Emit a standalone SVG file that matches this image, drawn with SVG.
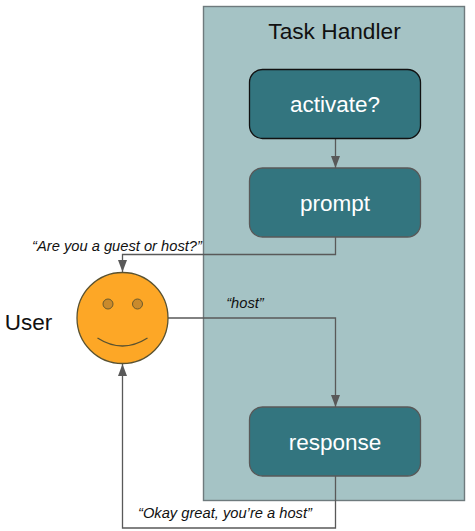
<svg xmlns="http://www.w3.org/2000/svg" width="475" height="531" viewBox="0 0 475 531">
<style>
text{font-family:"Liberation Sans",Arial,sans-serif;text-anchor:middle}
.box{fill:#33757f;stroke:#595959;stroke-width:1.3}
.lbl{fill:#fff;font-size:22.500px}
.q{font-size:14.700px;font-style:italic;fill:#111}
.c{fill:none;stroke:#595959;stroke-width:1.3}
</style>
<defs>
<marker id="b" markerUnits="userSpaceOnUse" markerWidth="12" markerHeight="9" refX="12" refY="4.500" orient="auto" viewBox="0 0 12 9"><path d="M0 0L12 4.500L0 9Z" fill="#595959"/></marker></defs>
<rect width="475" height="531" fill="#fff"/>
<g id="task-handler"><rect x="203.500" y="6.500" width="261" height="494" fill="#a5c3c5" stroke="#6e7a7d" stroke-width="1.4"/>
<text x="334.500" y="39" font-size="22.700" fill="#111">Task Handler</text></g>
<g id="connectors">
<path class="c" d="M335.500 139V168" marker-end="url(#b)"/>
<path class="c" d="M335.500 237V254.500H122.500V272" marker-end="url(#b)"/>
<path class="c" d="M168 318H335.500V407" marker-end="url(#b)"/>
<path class="c" d="M335.500 476V528H122.500V364" marker-end="url(#b)"/>
</g>
<g id="activate"><rect x="249.500" y="69.500" width="171" height="69" rx="13" class="box" style="stroke:#111"/><text x="335" y="112" class="lbl">activate?</text></g>
<g id="prompt"><rect x="249.500" y="168" width="171" height="69" rx="13" class="box"/><text x="335" y="211" class="lbl">prompt</text></g>
<g id="response"><rect x="249.500" y="407" width="171" height="69" rx="13" class="box"/><text x="335" y="450" class="lbl">response</text></g>
<g id="user"><circle cx="122.500" cy="318" r="45.500" fill="#fda726" stroke="#5a5230" stroke-width="1.3"/>
<circle cx="108" cy="304" r="5" fill="#c98a2c" stroke="#6b5a2c"/><circle cx="137.500" cy="304" r="5" fill="#c98a2c" stroke="#6b5a2c"/>
<path d="M97.500 338Q122.500 354 147.500 338" fill="none" stroke="#5a5230" stroke-width="1.3"/>
<text x="28.500" y="330" font-size="22.500" fill="#111">User</text></g>
<g id="labels">
<text x="117" y="251" class="q">“Are you a guest or host?”</text>
<text x="245" y="308" class="q">“host”</text>
<text x="225" y="518" class="q">“Okay great, you’re a host”</text>
</g>
</svg>
